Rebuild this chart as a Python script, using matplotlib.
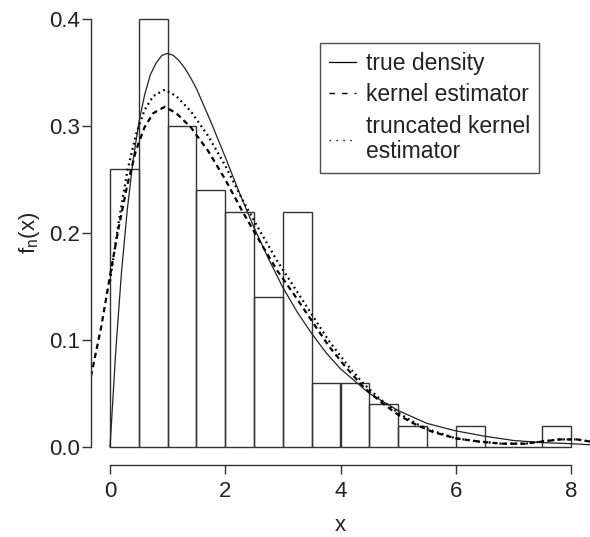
import matplotlib
matplotlib.use("Agg")
import matplotlib.pyplot as plt
from matplotlib.lines import Line2D

plt.rcParams["font.family"] = ["Liberation Sans", "DejaVu Sans"]

# --- Histogram (bin width 0.5) ---
bin_left = [0.0, 0.5, 1.0, 1.5, 2.0, 2.5, 3.0, 3.5, 4.0, 4.5, 5.0, 5.5, 6.0, 6.5, 7.0, 7.5]
bin_height = [0.26, 0.40, 0.30, 0.24, 0.22, 0.14, 0.22, 0.06, 0.06, 0.04, 0.02, 0.0, 0.02, 0.0, 0.0, 0.02]

# --- True density ---
true_x = [0.0, 0.1, 0.2, 0.3, 0.4, 0.5, 0.6, 0.7, 0.8, 0.9, 1.0, 1.1, 1.2, 1.3, 1.4, 1.5,
          1.75, 2.0, 2.25, 2.5, 2.75, 3.0, 3.25, 3.5, 3.75, 4.0, 4.5, 5.0, 5.5, 6.0,
          6.5, 7.0, 7.5, 8.0, 8.33]
true_y = [0.0, 0.090, 0.164, 0.222, 0.268, 0.303, 0.329, 0.348, 0.359, 0.366, 0.368, 0.366,
          0.361, 0.354, 0.345, 0.335, 0.304, 0.271, 0.237, 0.205, 0.176, 0.149, 0.126,
          0.106, 0.088, 0.073, 0.050, 0.034, 0.022, 0.015, 0.010, 0.006, 0.004, 0.003, 0.002]

# --- Kernel estimator ---
kern_x = [-0.33, -0.15, 0.0, 0.15, 0.3, 0.45, 0.6, 0.75, 0.95, 1.15, 1.4, 1.7, 2.0, 2.3,
          2.6, 2.9, 3.2, 3.5, 3.8, 4.1, 4.4, 4.7, 5.0, 5.3, 5.6, 6.0, 6.4, 6.8, 7.2,
          7.5, 7.8, 8.1, 8.33]
kern_y = [0.066, 0.113, 0.160, 0.205, 0.245, 0.277, 0.299, 0.312, 0.318, 0.312, 0.299,
          0.277, 0.250, 0.220, 0.192, 0.165, 0.142, 0.118, 0.094, 0.074, 0.056, 0.042,
          0.030, 0.021, 0.014, 0.008, 0.005, 0.003, 0.003, 0.005, 0.007, 0.007, 0.005]

# --- Truncated kernel estimator ---
trunc_x = [0.0, 0.15, 0.3, 0.45, 0.6, 0.75, 0.95, 1.15, 1.4, 1.7, 2.0, 2.3, 2.6, 2.9,
           3.2, 3.5, 3.8, 4.1, 4.4, 4.7, 5.0, 5.3, 5.6, 6.0, 6.4, 6.8, 7.2, 7.5, 7.8,
           8.1, 8.33]
trunc_y = [0.155, 0.210, 0.258, 0.292, 0.315, 0.328, 0.334, 0.328, 0.314, 0.291, 0.263,
           0.231, 0.202, 0.174, 0.149, 0.124, 0.099, 0.078, 0.059, 0.044, 0.032, 0.022,
           0.015, 0.008, 0.005, 0.003, 0.003, 0.005, 0.007, 0.007, 0.005]

legend_labels = ["true density", "kernel estimator", "truncated kernel\nestimator"]

fig = plt.figure(figsize=(5.9, 5.37), dpi=100)
ax = fig.add_axes([91 / 590, 73 / 537, 499 / 590, 462 / 537])

ax.bar(bin_left, bin_height, width=0.5, align="edge", fill=False,
       edgecolor="#333333", linewidth=1.0)

ax.plot(true_x, true_y, color="#222222", lw=0.9)
ax.plot(kern_x, kern_y, color="black", lw=1.6, linestyle=(0, (2.4, 1.8)))
ax.plot(trunc_x, trunc_y, color="black", lw=1.6, linestyle=(0, (0.8, 1.6)))

ax.set_xlim(-0.33, 8.33)
ax.set_ylim(-0.016, 0.416)

ax.spines["top"].set_visible(False)
ax.spines["right"].set_visible(False)
ax.spines["left"].set_bounds(0, 0.4)
ax.spines["bottom"].set_bounds(0, 8)
ax.spines["bottom"].set_position(("outward", 1))
for s in ("left", "bottom"):
    ax.spines[s].set_color("#333333")
    ax.spines[s].set_linewidth(1.0)

ax.set_xticks([0, 2, 4, 6, 8])
ax.set_yticks([0.0, 0.1, 0.2, 0.3, 0.4])
ax.set_yticklabels(["0.0", "0.1", "0.2", "0.3", "0.4"])
ax.tick_params(axis="both", labelsize=16, length=6.5, width=1.0, color="#333333",
               labelcolor="#222222")
ax.tick_params(axis="y", pad=1.5)
ax.tick_params(axis="x", pad=5)

ax.set_xlabel("x", fontsize=16, color="#222222", labelpad=9)
ax.set_ylabel(r"f$_\mathregular{n}$(x)", fontsize=16, color="#222222", labelpad=5)

handles = [
    Line2D([], [], color="black", lw=0.9),
    Line2D([], [], color="black", lw=1.0, linestyle=(0, (4, 5))),
    Line2D([], [], color="black", lw=1.0, linestyle=(0, (1, 4))),
]
leg = ax.legend(handles, legend_labels, loc="upper left",
                bbox_to_anchor=((320 - 91) / 499, (464 - 43) / 462),
                fontsize=16.5, frameon=True, fancybox=False, handlelength=1.15,
                handletextpad=0.45, labelspacing=0.36, borderpad=0.4,
                borderaxespad=0)
leg.get_frame().set_edgecolor("#222222")
leg.get_frame().set_linewidth(1.0)
for t in leg.get_texts():
    t.set_linespacing(1.15)
    t.set_color("#222222")

fig.savefig("out.png", dpi=100)
